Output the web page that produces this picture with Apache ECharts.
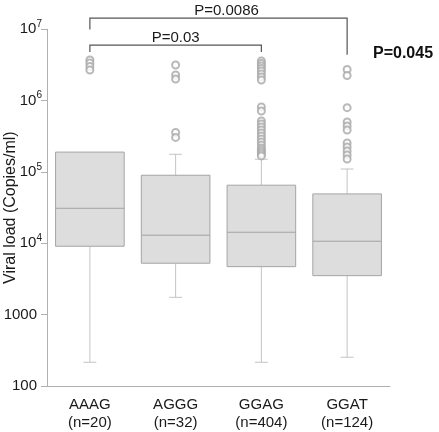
<!DOCTYPE html>
<html>
<head>
<meta charset="utf-8">
<script src="https://cdn.jsdelivr.net/npm/echarts@6/dist/echarts.min.js"></script>
<style>html,body{margin:0;padding:0;background:#fff;}#c{width:439px;height:432px;}</style>
</head>
<body>
<div id="c"></div>
<script>
const genotypes = ['AAAG', 'AGGG', 'GGAG', 'GGAT'];
const sampleSizes = [20, 32, 404, 124];
const whiskerLow = [215, 1750, 215, 253];
const q1 = [9100, 5260, 4710, 3520];
const median = [31000, 13000, 14300, 10700];
const q3 = [190000, 90000, 65300, 49300];
const whiskerHigh = [190000, 177000, 151000, 110000];
const outliersAAAG = [3720000, 3370000, 3010000, 2690000];
const outliersAGGG = [3160000, 2290000, 2010000, 358000, 305000];
const outliersGGAG = [3600000, 3320000, 3060000, 2820000, 2600000, 2360000, 2150000, 1950000,
  815000, 716000, 519000, 471000, 428000, 388000, 352000, 320000, 290000, 264000, 239000, 217000, 204000, 191000, 179000, 168000];
const outliersGGAT = [2730000, 2250000, 798000, 502000, 442000, 388000, 255000, 224000, 197000, 173000, 152000];
const yTicks = [100, 1000, 10000, 100000, 1000000, 10000000];
const comparisons = [
  { from: 0, to: 3, label: 'P=0.0086' },
  { from: 0, to: 2, label: 'P=0.03' }
];
const overallP = 'P=0.045';

const categoryLabels = genotypes.map((g, i) => g + '\n(n=' + sampleSizes[i] + ')');
const boxData = genotypes.map((g, i) => [i, whiskerLow[i], q1[i], median[i], q3[i], whiskerHigh[i]]);
const outlierGroups = [outliersAAAG, outliersAGGG, outliersGGAG, outliersGGAT];
const outlierData = [];
outlierGroups.forEach((arr, i) => arr.forEach(v => outlierData.push([i, v])));

// bracket geometry (data-space heights): [top, left leg end, right leg end]
const bracketGeom = [[14300000, 9900000, 4400000], [6000000, 4800000, 4800000]];
const labelShift = [8, 0];

const chart = echarts.init(document.getElementById('c'));
const FONT = '"Liberation Sans", Arial, sans-serif';
chart.setOption({
  animation: false,
  grid: { left: 47, right: 49, top: 29.3, bottom: 46, containLabel: false, outerBoundsMode: 'none' },
  xAxis: {
    type: 'category',
    data: categoryLabels,
    boundaryGap: true,
    axisLine: { lineStyle: { color: '#b0b0b0', width: 1 } },
    axisTick: { inside: true, length: 5, lineStyle: { color: '#b0b0b0' } },
    axisLabel: { color: '#1a1a1a', fontSize: 15, fontFamily: FONT, lineHeight: 18, margin: 10 }
  },
  yAxis: {
    type: 'log',
    logBase: 10,
    min: 100,
    max: 10000000,
    name: 'Viral load (Copies/ml)',
    nameLocation: 'middle',
    nameGap: 28,
    nameMoveOverlap: false,
    nameTextStyle: { fontSize: 16, color: '#1a1a1a', fontFamily: FONT },
    splitLine: { show: false },
    axisLine: { show: true, lineStyle: { color: '#b0b0b0', width: 1 } },
    axisTick: { show: true, length: 6, lineStyle: { color: '#b0b0b0' } },
    axisLabel: {
      color: '#1a1a1a', fontSize: 15, fontFamily: FONT, margin: 5,
      formatter: function (v) {
        const e = Math.round(Math.log10(v));
        return e <= 3 ? '{p|' + Math.round(v) + '}' : '10{sup|' + e + '}';
      },
      rich: {
        p: { fontSize: 15, fontFamily: FONT, color: '#1a1a1a', padding: [0, 5, 0, 0] },
        sup: { fontSize: 10, fontFamily: FONT, color: '#1a1a1a', padding: [0, 0, 10, 0] }
      }
    }
  },
  series: [
    {
      type: 'custom',
      data: boxData,
      encode: { x: 0, y: [1, 2, 3, 4, 5] },
      renderItem: function (params, api) {
        const i = api.value(0);
        const pLow = api.coord([i, api.value(1)]);
        const pQ1 = api.coord([i, api.value(2)]);
        const pMed = api.coord([i, api.value(3)]);
        const pQ3 = api.coord([i, api.value(4)]);
        const pHigh = api.coord([i, api.value(5)]);
        const band = api.size([1, 0])[0];
        const bw = band * 0.80;
        const cw = band * 0.15;
        const x = pLow[0];
        const wStyle = { stroke: '#c4c4c4', lineWidth: 1 };
        const children = [
          { type: 'line', shape: { x1: x, y1: pLow[1], x2: x, y2: pQ1[1] }, style: wStyle },
          { type: 'line', shape: { x1: x - cw / 2, y1: pLow[1], x2: x + cw / 2, y2: pLow[1] }, style: wStyle }
        ];
        if (api.value(5) > api.value(4)) {
          children.push({ type: 'line', shape: { x1: x, y1: pHigh[1], x2: x, y2: pQ3[1] }, style: wStyle });
          children.push({ type: 'line', shape: { x1: x - cw / 2, y1: pHigh[1], x2: x + cw / 2, y2: pHigh[1] }, style: wStyle });
        }
        children.push({ type: 'rect', shape: { x: x - bw / 2, y: pQ3[1], width: bw, height: pQ1[1] - pQ3[1] },
          style: { fill: '#dcdddc', stroke: '#a5a5a5', lineWidth: 1 } });
        children.push({ type: 'line', shape: { x1: x - bw / 2, y1: pMed[1], x2: x + bw / 2, y2: pMed[1] },
          style: { stroke: '#a3a3a3', lineWidth: 1 } });
        return { type: 'group', children: children };
      }
    },
    {
      type: 'scatter',
      data: outlierData,
      symbol: 'emptyCircle',
      symbolSize: 7,
      itemStyle: { color: '#a8a8a8', borderWidth: 1 },
      z: 5
    },
    {
      type: 'custom',
      clip: false,
      data: comparisons.map((c, k) => [c.from, c.to, k]),
      encode: { x: [0, 1] },
      renderItem: function (params, api) {
        const k = api.value(2);
        const g = bracketGeom[k];
        const pL = api.coord([api.value(0), g[0]]);
        const pR = api.coord([api.value(1), g[0]]);
        const pLe = api.coord([api.value(0), g[1]]);
        const pRe = api.coord([api.value(1), g[2]]);
        const st = { stroke: '#555', lineWidth: 1.2 };
        return {
          type: 'group',
          children: [
            { type: 'polyline', shape: { points: [[pLe[0], pLe[1]], [pL[0], pL[1]], [pR[0], pR[1]], [pRe[0], pRe[1]]] }, style: Object.assign({ fill: null }, st) },
            { type: 'text', x: (pL[0] + pR[0]) / 2 + labelShift[k], y: pL[1] - 7,
              style: { text: comparisons[k].label, fill: '#1a1a1a', font: '15px ' + FONT, align: 'center', verticalAlign: 'middle' } }
          ]
        };
      }
    }
  ],
  graphic: [
    { type: 'text', left: 373, top: 46, style: { text: overallP, fill: '#111', font: 'bold 16px ' + FONT } }
  ]
});
</script>
</body>
</html>
